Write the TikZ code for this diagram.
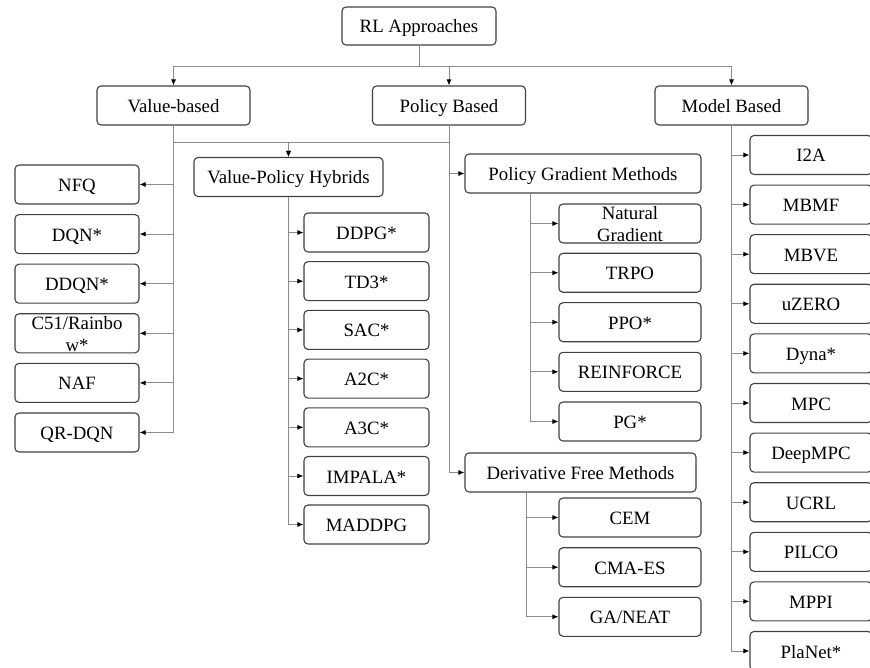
\documentclass[tikz,border=0pt]{standalone}
\usepackage{fontspec}
\setmainfont{Liberation Serif}
\usetikzlibrary{arrows.meta}
\tikzstyle{box}=[draw=black!75, line width=1.1pt, rounded corners=4pt, inner sep=0pt, minimum height=39pt, text height=18pt, text depth=4pt, font=\fontsize{18.8}{22.5}\selectfont]
\tikzstyle{leaf}=[box, minimum width=124pt]
\tikzstyle{edge}=[draw, black!45, line width=0.9pt, -{Latex[length=6pt,width=5pt,color=black]}]

\begin{document}
\begin{tikzpicture}[x=1pt, y=-1pt]
    \useasboundingbox (0,0) rectangle (870,668);
    % First the top levels
    \node[box, minimum width=154pt, minimum height=38pt] (rl) at (419,26) {RL Approaches};
    \foreach \pos/\name/\txt in {{(173.5,105.5)/vb/Value-based},{(449,105.5)/pb/Policy Based},{(731.5,105.5)/mb/Model Based}}
        \node[box, minimum width=153pt] (\name) at \pos {\txt};
    \node[box, minimum width=189pt] (vph) at (288.5,177) {Value-Policy Hybrids};
    \node[box, minimum width=236pt] (pgm) at (583,173.5) {Policy Gradient Methods};
    \node[box, minimum width=231pt] (dfm) at (580.5,472.5) {Derivative Free Methods};

    % Then the leaves
    \foreach \pos/\name/\txt in {{(77,184.5)/nfq/NFQ},{(77,234.1)/dqn/DQN*},{(77,283.7)/ddqn/DDQN*},
        {(77,333.3)/cfo/\smash{\begin{tabular}{@{}c@{}}C51/Rainbo\\w*\end{tabular}}},{(77,382.9)/naf/NAF},{(77,432.5)/qrdqn/QR-DQN}}
        \node[leaf] (\name) at \pos {\txt};

    \foreach \pos/\name/\txt in {{(366.5,232.5)/ddpg/DDPG*},{(366.5,281.2)/tdt/TD3*},{(366.5,329.9)/sac/SAC*},{(366.5,378.6)/atc/A2C*},
        {(366.5,427.3)/athc/A3C*},{(366.5,476)/impala/IMPALA*},{(366.5,524.5)/maddpg/MADDPG}}
        \node[leaf, minimum width=125pt] (\name) at \pos {\txt};

    \foreach \pos/\name/\txt in {{(630,223.5)/ng/\smash{\begin{tabular}{@{}c@{}}Natural\\Gradient\end{tabular}}},{(630,272.8)/trpo/TRPO},
        {(630,322.2)/ppo/PPO*},{(630,371.8)/reinforce/REINFORCE},{(630,421.5)/pg/PG*},
        {(630,517.5)/cem/CEM},{(630,567.2)/cmaes/CMA-ES},{(630,616.8)/ganeat/{GA/NEAT}}}
        \node[leaf, minimum width=142pt] (\name) at \pos {\txt};

    \foreach \pos/\name/\txt in {{(811,155)/itwoa/I2A},{(811,204.6)/mbmf/MBMF},{(811,254.2)/mbve/MBVE},{(811,303.8)/uzero/uZERO},
        {(811,353.4)/dyna/Dyna*},{(811,403)/mpc/MPC},{(811,452.6)/deepmpc/DeepMPC},{(811,502.2)/ucrl/UCRL},
        {(811,551.8)/pilco/PILCO},{(811,601.4)/mppi/MPPI},{(811,651)/planet/PlaNet*}}
        \node[leaf, minimum width=122pt] (\name) at \pos {\txt};

    % Connect them
    \foreach \dest in {vb,pb,mb}
        \path[edge] (rl.south) -- ++(0,21) -| (\dest.north);
    \foreach \dest in {nfq,dqn,ddqn,cfo,naf,qrdqn}
        \path[edge] (vb.south) |- (\dest.east);
    \path[edge] (vb.south) -- ++(0,17) -| (vph.north);
    \path[edge] (pb.south) -- ++(0,17) -| (vph.north);
    \foreach \dest in {ddpg,tdt,sac,atc,athc,impala,maddpg}
        \path[edge] (vph.south) |- (\dest.west);
    \foreach \dest in {pgm,dfm}
        \path[edge] (pb.south) |- (\dest.west);
    \foreach \dest in {ng,trpo,ppo,reinforce,pg}
        \path[edge] ([xshift=66pt]pgm.south west) |- (\dest.west);
    \foreach \dest in {cem,cmaes,ganeat}
        \path[edge] ([xshift=62pt]dfm.south west) |- (\dest.west);
    \foreach \dest in {itwoa,mbmf,mbve,uzero,dyna,mpc,deepmpc,ucrl,pilco,mppi,planet}
        \path[edge] (mb.south) |- (\dest.west);
\end{tikzpicture}
\end{document}
